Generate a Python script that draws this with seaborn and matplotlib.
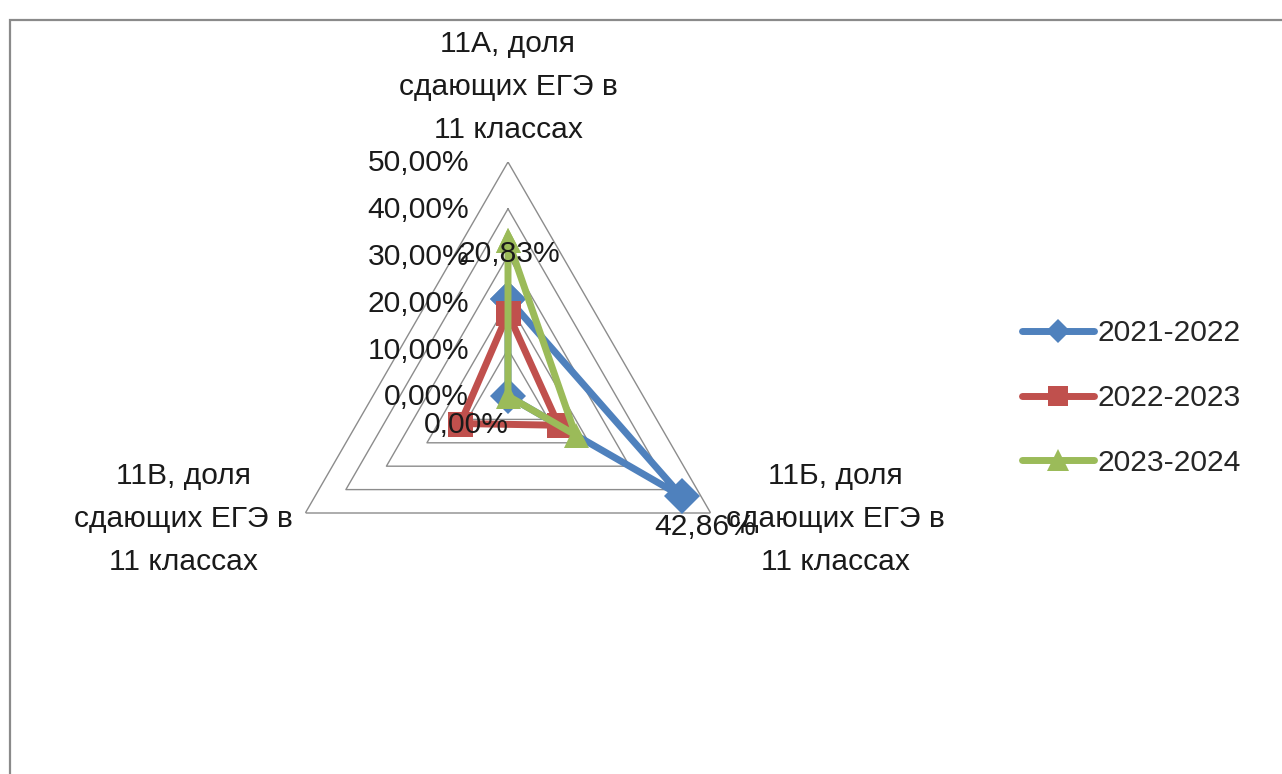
import numpy as np
import pandas as pd
import matplotlib
matplotlib.use("Agg")
import matplotlib.pyplot as plt
import matplotlib.patches as mpatches
from matplotlib.lines import Line2D
import seaborn as sns

# ── data ──────────────────────────────────────────────────────────────────────
categories = ["11А, доля\nсдающих ЕГЭ в\n11 классах",
              "11Б, доля\nсдающих ЕГЭ в\n11 классах",
              "11В, доля\nсдающих ЕГЭ в\n11 классах"]
years = ["2021-2022", "2022-2023", "2023-2024"]
vals_2122 = [20.83, 42.86, 0.00]
vals_2223 = [17.65, 12.50, 11.76]
vals_2324 = [33.33, 16.67, 0.00]
r_ticks = [0, 10, 20, 30, 40, 50]

BLUE  = "#4F81BD"
RED   = "#C0504D"
GREEN = "#9BBB59"
GRID  = "#8C8C8C"

sns.set_theme(style="white")
plt.rcParams["font.family"] = ["Liberation Sans", "DejaVu Sans"]
FS = 21.6

W, H = 1282, 774
fig = plt.figure(figsize=(W / 100, H / 100), dpi=100)

# chart area border (only top + left edges fall inside the picture)
fig.add_artist(mpatches.Rectangle((10 / W, -0.2), 1.2, 1.2 - 20 / H,
                                  transform=fig.transFigure, fill=False,
                                  ec="#8A8A8A", lw=1.6))

cx, cy, R = 508, 396, 234
ax = fig.add_axes([(cx - R) / W, (H - cy - R) / H, 2 * R / W, 2 * R / H],
                  projection="polar")
ax.set_theta_offset(np.pi / 2)
ax.set_theta_direction(-1)
ax.set_ylim(0, 50)
ax.grid(False)
ax.set_xticks([])
ax.set_yticks([])
ax.spines["polar"].set_visible(False)
ax.patch.set_alpha(0)

n = len(categories)
theta = np.linspace(0, 2 * np.pi, n + 1)   # closed polygon

# triangular grid
for r in r_ticks[1:]:
    ax.plot(theta, [r] * (n + 1), color=GRID, lw=1.0, zorder=1)

# radial tick labels
for r in r_ticks:
    ax.annotate(f"{r:.2f}%".replace(".", ","), xy=(0, r), xytext=(-28, -1),
                textcoords="offset points", ha="right", va="center",
                fontsize=FS, color="#1a1a1a", annotation_clip=False)

# series
rows = []
for yr, vals in zip(years, [vals_2122, vals_2223, vals_2324]):
    closed = list(vals) + [vals[0]]
    for t, v in zip(theta, closed):
        rows.append({"theta": t, "value": v, "year": yr})
df = pd.DataFrame(rows)

sns.lineplot(data=df, x="theta", y="value", hue="year", style="year",
             palette=[BLUE, RED, GREEN], markers=["D", "s", "^"],
             dashes=False, sort=False, estimator=None, lw=5,
             markersize=18, markeredgewidth=0, legend=False, ax=ax, zorder=3)
ax.set_xlabel("")
ax.set_ylabel("")
ax.set_ylim(0, 50)

# data labels for first series
lbl_offsets = [(1, 32), (17, -22), (-30, -21)]
for t, v, off in zip(theta[:n], vals_2122, lbl_offsets):
    ax.annotate(f"{v:.2f}%".replace(".", ","), xy=(t, v), xytext=off,
                textcoords="offset points", ha="center", va="center",
                fontsize=FS, color="#1a1a1a", zorder=5, annotation_clip=False)

# category labels
cat_offsets = [(0, 54), (90, -4.5), (-88, -4.5)]
for t, lab, off in zip(theta[:n], categories, cat_offsets):
    ax.annotate(lab, xy=(t, 50), xytext=off, textcoords="offset points",
                ha="center", va="center", fontsize=FS, color="#1a1a1a",
                linespacing=1.68, annotation_clip=False)

# legend
handles = [Line2D([], [], color=c, marker=m, lw=5, markersize=ms, markeredgewidth=0)
           for c, m, ms in zip([BLUE, RED, GREEN], ["D", "s", "^"], [12, 15, 16])]
fig.legend(handles, years, loc="center left",
           bbox_to_anchor=(1022 / W, 1 - 398 / H), frameon=False,
           fontsize=FS, handlelength=2.4, handletextpad=0.12, labelspacing=1.22,
           borderaxespad=0, borderpad=0)

fig.savefig("out.png", dpi=100)
